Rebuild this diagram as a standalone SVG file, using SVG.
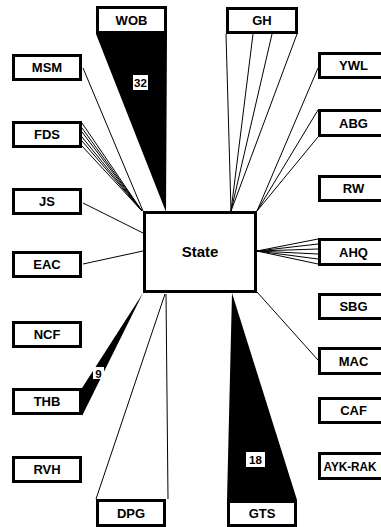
<svg xmlns="http://www.w3.org/2000/svg" width="381" height="527" viewBox="0 0 381 527">
  <style>
    .node rect { fill: #fff; stroke: #000; stroke-width: 3; }
    .node text { font-family: "Liberation Sans", Arial, sans-serif; font-weight: bold; font-size: 13px; text-anchor: middle; fill: #000; }
    #state text { font-size: 15px; }
    .edge { stroke: #000; stroke-width: 1; fill: none; }
    .wedge { fill: #000; stroke: none; }
    .wlabel rect { fill: #fff; stroke: none; }
    .wlabel text { font-family: "Liberation Sans", Arial, sans-serif; font-weight: bold; font-size: 11.5px; text-anchor: middle; fill: #000; }
  </style>
  <rect width="381" height="527" fill="#fff"/>

  <!-- connectors (drawn under the nodes) -->
  <g id="connectors">
    <!-- weighted ties drawn as wedges -->
    <polygon class="wedge" points="96,34 167,34 166,212"/>
    <polygon class="wedge" points="232,293 227,500 297,500"/>
    <polygon class="wedge" points="143,293 82,388 82,416"/>

    <!-- MSM -->
    <line class="edge" x1="83" y1="68" x2="143" y2="211"/>
    <!-- FDS (multiple ties) -->
    <line class="edge" x1="82" y1="123" x2="142" y2="211"/>
    <line class="edge" x1="82" y1="128" x2="142" y2="211"/>
    <line class="edge" x1="82" y1="132" x2="142" y2="211"/>
    <line class="edge" x1="82" y1="137" x2="142" y2="211"/>
    <line class="edge" x1="82" y1="141" x2="142" y2="211"/>
    <line class="edge" x1="82" y1="146" x2="142" y2="211"/>
    <!-- JS, EAC -->
    <line class="edge" x1="83" y1="203" x2="143" y2="233"/>
    <line class="edge" x1="83" y1="264" x2="143" y2="251"/>
    <!-- GH -->
    <line class="edge" x1="226" y1="34" x2="231" y2="211"/>
    <line class="edge" x1="253" y1="34" x2="231" y2="211"/>
    <line class="edge" x1="272" y1="34" x2="231" y2="211"/>
    <line class="edge" x1="297" y1="34" x2="231" y2="211"/>
    <!-- YWL, ABG -->
    <line class="edge" x1="318" y1="68" x2="257" y2="211"/>
    <line class="edge" x1="318" y1="110" x2="257" y2="211"/>
    <line class="edge" x1="318" y1="137" x2="257" y2="211"/>
    <!-- AHQ (multiple ties) -->
    <line class="edge" x1="257" y1="251" x2="318" y2="239"/>
    <line class="edge" x1="257" y1="251" x2="318" y2="244"/>
    <line class="edge" x1="257" y1="251" x2="318" y2="249"/>
    <line class="edge" x1="257" y1="251" x2="318" y2="254"/>
    <line class="edge" x1="257" y1="251" x2="318" y2="259"/>
    <line class="edge" x1="257" y1="251" x2="318" y2="264"/>
    <!-- MAC -->
    <line class="edge" x1="257" y1="292" x2="318" y2="360"/>
    <!-- DPG -->
    <line class="edge" x1="165" y1="294" x2="96" y2="499"/>
    <line class="edge" x1="166" y1="294" x2="168" y2="499"/>

    <!-- tie weights -->
    <g class="wlabel">
      <rect x="133" y="75" width="15" height="15"/>
      <text x="140.5" y="87.3">32</text>
      <rect x="246" y="452" width="19" height="15"/>
      <text x="255.5" y="464">18</text>
      <rect x="93" y="367" width="11" height="12"/>
      <text x="98.5" y="377.5">9</text>
    </g>
  </g>

  <!-- central node -->
  <g id="state" class="node">
    <rect x="144.5" y="212.5" width="111" height="79"/>
    <text x="200" y="257">State</text>
  </g>

  <!-- top / bottom nodes -->
  <g id="WOB" class="node"><rect x="97.5" y="7.5" width="68" height="25"/><text x="131.5" y="24.7">WOB</text></g>
  <g id="GH" class="node"><rect x="227.5" y="8.5" width="69" height="24"/><text x="262" y="25.2">GH</text></g>
  <g id="DPG" class="node"><rect x="97.5" y="500.5" width="67" height="25"/><text x="131" y="517.7">DPG</text></g>
  <g id="GTS" class="node"><rect x="228.5" y="501.5" width="67" height="24"/><text x="262" y="518.2">GTS</text></g>

  <!-- left column -->
  <g id="MSM" class="node"><rect x="13.5" y="55.5" width="67" height="24"/><text x="47" y="72.2">MSM</text></g>
  <g id="FDS" class="node"><rect x="13.5" y="122.5" width="67" height="24"/><text x="47" y="139.2">FDS</text></g>
  <g id="JS" class="node"><rect x="13.5" y="189.5" width="67" height="24"/><text x="47" y="206.2">JS</text></g>
  <g id="EAC" class="node"><rect x="13.5" y="252.5" width="67" height="24"/><text x="47" y="269.2">EAC</text></g>
  <g id="NCF" class="node"><rect x="13.5" y="322.5" width="67" height="24"/><text x="47" y="339.2">NCF</text></g>
  <g id="THB" class="node"><rect x="13.5" y="389.5" width="67" height="24"/><text x="47" y="406.2">THB</text></g>
  <g id="RVH" class="node"><rect x="13.5" y="457.5" width="67" height="24"/><text x="47" y="474.2">RVH</text></g>

  <!-- right column (boxes run past the right edge) -->
  <g id="YWL" class="node"><rect x="319.5" y="53.5" width="68" height="24"/><text x="353.5" y="70.2">YWL</text></g>
  <g id="ABG" class="node"><rect x="319.5" y="110.5" width="68" height="25"/><text x="353.5" y="127.7">ABG</text></g>
  <g id="RW" class="node"><rect x="319.5" y="176.5" width="68" height="24"/><text x="353.5" y="193.2">RW</text></g>
  <g id="AHQ" class="node"><rect x="319.5" y="239.5" width="68" height="25"/><text x="353.5" y="256.7">AHQ</text></g>
  <g id="SBG" class="node"><rect x="319.5" y="294.5" width="68" height="24"/><text x="353.5" y="311.2">SBG</text></g>
  <g id="MAC" class="node"><rect x="319.5" y="348.5" width="68" height="25"/><text x="353.5" y="365.7">MAC</text></g>
  <g id="CAF" class="node"><rect x="319.5" y="398.5" width="68" height="24"/><text x="353.5" y="415.2">CAF</text></g>
  <g id="AYK-RAK" class="node"><rect x="319.5" y="453.5" width="68" height="25"/><text x="323.5" y="470.7" style="text-anchor:start;font-size:12px" textLength="53" lengthAdjust="spacingAndGlyphs">AYK-RAK</text></g>
</svg>
